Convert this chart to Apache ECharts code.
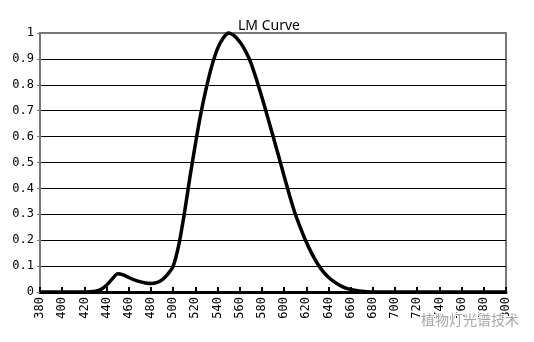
<!DOCTYPE html>
<html>
<head>
<meta charset="utf-8">
<script src="https://cdn.jsdelivr.net/npm/echarts@6/dist/echarts.min.js"></script>
<style>
  html, body { margin: 0; padding: 0; background: #fff; }
  #chart { width: 534px; height: 342px; }
</style>
</head>
<body>
<div id="chart"></div>
<script>
// Wavelength samples (nm) and relative LM sensitivity
const wavelengths = [
  380, 385, 390, 395, 400, 405, 410, 415, 420, 425,
  430, 435, 440, 445, 450, 455, 460, 465, 470, 475,
  480, 485, 490, 495, 500, 505, 510, 515, 520, 525,
  530, 535, 540, 545, 550, 555, 560, 565, 570, 575,
  580, 585, 590, 595, 600, 605, 610, 615, 620, 625,
  630, 635, 640, 645, 650, 655, 660, 665, 670, 675,
  680, 700, 720, 740, 760, 780, 800
];
const lmValues = [
  0, 0, 0, 0, 0, 0, 0, 0, 0, 0.001,
  0.003, 0.01, 0.026, 0.05, 0.07, 0.066, 0.056, 0.047, 0.04, 0.035,
  0.033, 0.036, 0.047, 0.068, 0.1, 0.18, 0.3, 0.44, 0.57, 0.69,
  0.79, 0.875, 0.94, 0.98, 1.0, 0.99, 0.966, 0.932, 0.886, 0.822,
  0.752, 0.678, 0.602, 0.526, 0.448, 0.372, 0.302, 0.245, 0.193, 0.148,
  0.11, 0.08, 0.057, 0.04, 0.026, 0.016, 0.01, 0.006, 0.003, 0.001,
  0, 0, 0, 0, 0, 0, 0
];
const yTickLabels = ['0', '0.1', '0.2', '0.3', '0.4', '0.5', '0.6', '0.7', '0.8', '0.9', '1'];

const chart = echarts.init(document.getElementById('chart'));

// grid lines are black except the top one, which blends with the gray frame
const splitColors = yTickLabels.map((_, i) => i === yTickLabels.length - 1 ? '#777' : '#000');

chart.setOption({
  animation: false,
  backgroundColor: '#fff',
  title: {
    text: 'LM Curve',
    left: 264,
    textAlign: 'center',
    top: 14,
    textStyle: { fontFamily: 'Noto Sans', fontWeight: 'normal', fontSize: 14, color: '#000' }
  },
  grid: {
    left: 40, right: 28, top: 33, bottom: 50,
    show: true, borderColor: '#777', borderWidth: 2, backgroundColor: 'transparent'
  },
  xAxis: {
    type: 'value',
    min: 380, max: 800, interval: 20,
    axisLine: { show: true, lineStyle: { color: '#000', width: 3 } },
    axisTick: { show: true, inside: true, length: 5, lineStyle: { color: '#000', width: 2 } },
    axisLabel: {
      rotate: 90, margin: 5,
      fontFamily: 'DejaVu Sans Mono', fontSize: 12, color: '#000',
      formatter: v => String(v)
    },
    splitLine: { show: false }
  },
  yAxis: {
    type: 'value',
    min: 0, max: 1, interval: 0.1,
    axisLine: { show: true, lineStyle: { color: '#777', width: 2 } },
    axisTick: { show: true, length: 3, lineStyle: { color: '#777' } },
    axisLabel: {
      margin: 6,
      fontFamily: 'DejaVu Sans Mono', fontSize: 12, color: '#000',
      formatter: (v) => yTickLabels[Math.round(v * 10)]
    },
    splitLine: { show: true, lineStyle: { color: splitColors, width: 1 } }
  },
  graphic: [{
    type: 'text',
    right: 14, bottom: 14,
    style: {
      text: '植物灯光谱技术',
      font: '14px "Noto Sans CJK SC"',
      fill: 'rgba(130,130,130,0.7)',
      stroke: '#fff', lineWidth: 2
    },
    z: 100
  }],
  series: [{
    type: 'line',
    data: wavelengths.map((w, i) => [w, lmValues[i]]),
    smooth: 0.2,
    showSymbol: false,
    clip: false,
    lineStyle: { color: '#000', width: 3.5 },
    z: 5
  }]
});
</script>
</body>
</html>
